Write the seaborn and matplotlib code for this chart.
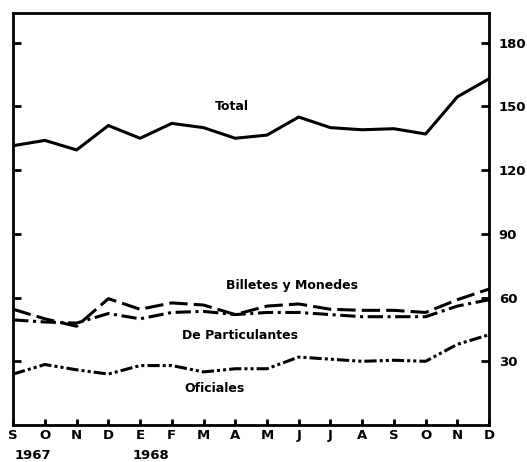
import numpy as np
import pandas as pd
import matplotlib
matplotlib.use('Agg')
import matplotlib.pyplot as plt
import seaborn as sns

# meses: sept 1967 - dic 1968
meses = ['S', 'O', 'N', 'D', 'E', 'F', 'M', 'A', 'M', 'J', 'J', 'A', 'S', 'O', 'N', 'D']
total = [131.5, 134, 129.5, 141, 135, 142, 140, 135, 136.5, 145, 140, 139, 139.5, 137, 154.5, 163]
billetes = [54.5, 50, 46.5, 59.5, 54.5, 57.5, 56.5, 52, 56, 57, 54.5, 54, 54, 53, 59, 64]
particulares = [49.5, 48.5, 48, 52.5, 50, 53, 53.5, 52, 53, 53, 52, 51, 51, 51, 56, 59]
oficiales = [24, 28.5, 26, 24, 28, 28, 25, 26.5, 26.5, 32, 31, 30, 30.5, 30, 38, 42.5]

series = {'Total': total, 'Billetes': billetes,
          'Particulares': particulares, 'Oficiales': oficiales}
df = pd.concat([pd.DataFrame({'mes': np.arange(len(meses)), 'valor': v, 'serie': k})
                for k, v in series.items()], ignore_index=True)

sns.set_style('white')
plt.rcParams['font.family'] = ['DejaVu Sans']
plt.rcParams['text.color'] = 'black'
plt.rcParams['xtick.color'] = 'black'
plt.rcParams['ytick.color'] = 'black'

fig = plt.figure(figsize=(5.27, 4.62), dpi=100)
ax = fig.add_axes([0.025, 0.08, 0.903, 0.892])

sns.lineplot(data=df, x='mes', y='valor', style='serie', color='black', lw=2.2,
             dashes={'Total': '', 'Billetes': (6, 2),
                     'Particulares': (5, 1.5, 1, 1.5),
                     'Oficiales': (4, 1, 1, 1, 1, 1)},
             legend=False, ax=ax)

ax.set_xlim(0, 15)
ax.set_ylim(0, 194)
ax.set_xlabel('')
ax.set_ylabel('')
ax.set_xticks(np.arange(len(meses)), meses, fontweight='bold', fontsize=9.5)
ax.set_yticks([30, 60, 90, 120, 150, 180])
ax.set_yticklabels(['30', '60', '90', '120', '150', '180'], fontweight='bold', fontsize=9.5)
ax.tick_params(axis='y', left=True, right=True, labelleft=False, labelright=True,
               direction='in', length=6, width=2, pad=7)
ax.tick_params(axis='x', bottom=True, direction='in', length=4, width=2, pad=3)
for s in ax.spines.values():
    s.set_linewidth(2)
    s.set_color('black')

ax.text(0.62, -0.058, '1967', transform=ax.get_xaxis_transform(), ha='center', va='top',
        fontweight='bold', fontsize=9.5)
ax.text(4.35, -0.058, '1968', transform=ax.get_xaxis_transform(), ha='center', va='top',
        fontweight='bold', fontsize=9.5)

etiqueta = dict(ha='center', va='center', fontweight='bold', fontsize=9)
ax.text(6.9, 150, 'Total', **etiqueta)
ax.text(8.8, 65.5, 'Billetes y Monedes', **etiqueta)
ax.text(7.15, 42, 'De Particulantes', **etiqueta)
ax.text(6.35, 17, 'Oficiales', **etiqueta)

fig.savefig('out.png', dpi=100)
